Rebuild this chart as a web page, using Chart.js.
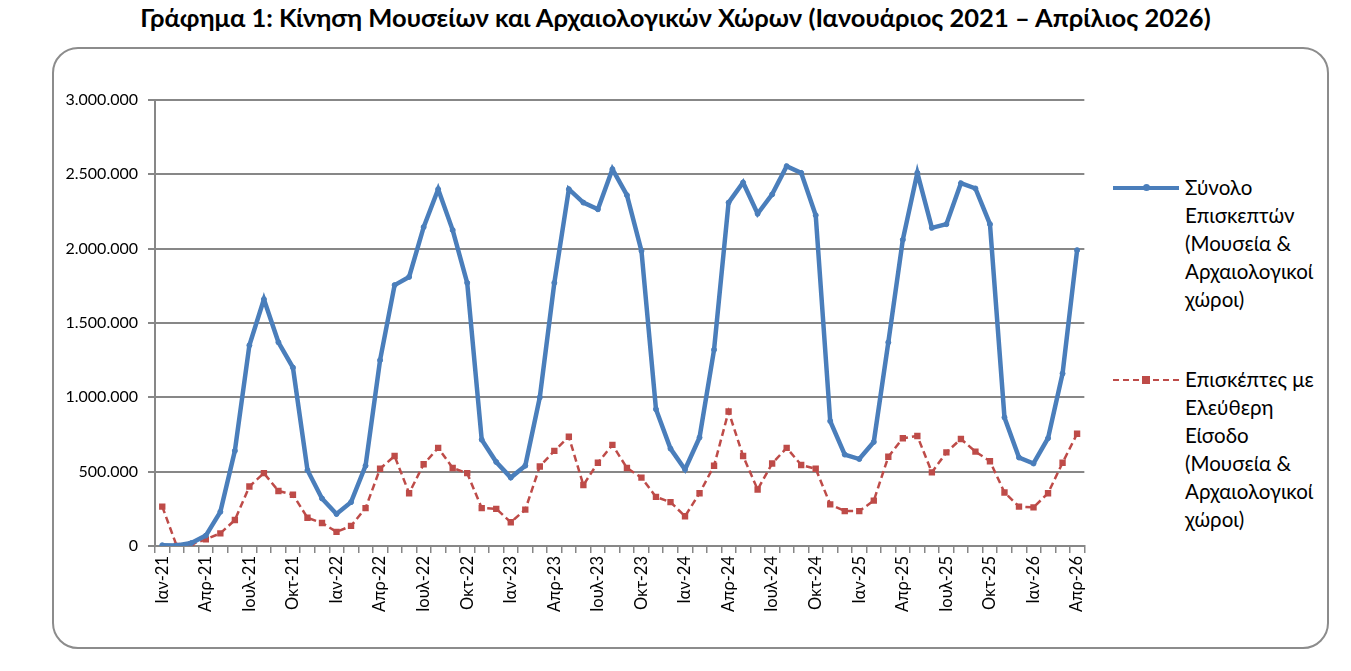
<!DOCTYPE html>
<html>
<head>
<meta charset="utf-8">
<script src="https://cdn.jsdelivr.net/npm/chart.js@4/dist/chart.umd.min.js"></script>
<style>
    body { margin: 0; background: #fff; font-family: Lato, "Open Sans", sans-serif; }
    #title {
        position: absolute; left: 0; top: 2px; width: 1351px;
        text-align: center; font-weight: bold; font-size: 25.5px; color: #000;
    }
    #frame {
        position: absolute; left: 52px; top: 47px; width: 1273px; height: 598px;
        border: 2px solid #8c8c8c; border-radius: 26px;
    }
    #wrap { position: absolute; left: 0; top: 0; width: 1100px; height: 671px; }
    .leg { position: absolute; left: 1113px; font-size: 20.5px; line-height: 28px; color: #000; }
    .leg .txt { position: absolute; left: 72px; top: 0; width: 160px; white-space: nowrap; }
    .leg .sample { position: absolute; left: 0; top: 13px; width: 66px; }
</style>
</head>
<body>
<div id="title">Γράφημα 1: Κίνηση Μουσείων και Αρχαιολογικών Χώρων (Ιανουάριος 2021 – Απρίλιος 2026)</div>
<div id="frame"></div>
<div id="wrap"><canvas id="chart" width="1100" height="671"></canvas></div>

<div class="leg" id="leg1" style="top:173px">
    <div class="sample" style="border-top:4px solid #4a7ebb"></div>
    <div style="position:absolute;left:30px;top:11px;width:7px;height:7px;border-radius:50%;background:#4a7ebb"></div>
    <div class="txt">Σύνολο<br>Επισκεπτών<br>(Μουσεία &amp;<br>Αρχαιολογικοί<br>χώροι)</div>
</div>
<div class="leg" id="leg2" style="top:365px">
    <div class="sample" style="border-top:2px dashed #be4b48; top:14px"></div>
    <div style="position:absolute;left:29px;top:11px;width:8px;height:8px;background:#be4b48"></div>
    <div class="txt">Επισκέπτες με<br>Ελεύθερη<br>Είσοδο<br>(Μουσεία &amp;<br>Αρχαιολογικοί<br>χώροι)</div>
</div>

<script>
// =============================================================
// DATA
// =============================================================
const monthNames = ["Ιαν", "Φεβ", "Μαρ", "Απρ", "Μαϊ", "Ιουν", "Ιουλ", "Αυγ", "Σεπ", "Οκτ", "Νοε", "Δεκ"];
const years      = ["21", "22", "23", "24", "25", "26"];

// Jan 2021 -> Apr 2026
const months = [];
years.forEach(y => monthNames.forEach(m => months.push(m + "-" + y)));
months.length = 64;

const totalVisitors = [
    5000, 3000, 20000, 70000, 230000, 640000, 1350000, 1660000, 1370000, 1200000, 510000, 320000,
    215000, 295000, 540000, 1250000, 1755000, 1810000, 2145000, 2400000, 2125000, 1770000, 715000, 565000,
    460000, 540000, 1000000, 1770000, 2400000, 2310000, 2265000, 2535000, 2360000, 1985000, 920000, 655000,
    515000, 730000, 1320000, 2310000, 2445000, 2235000, 2365000, 2555000, 2510000, 2225000, 840000, 615000,
    585000, 700000, 1370000, 2060000, 2510000, 2140000, 2165000, 2440000, 2405000, 2165000, 865000, 595000,
    555000, 725000, 1160000, 1990000
];

const freeVisitors = [
    265000, 0, 10000, 45000, 85000, 175000, 400000, 490000, 370000, 345000, 190000, 155000,
    95000, 135000, 255000, 520000, 605000, 355000, 550000, 660000, 525000, 490000, 255000, 250000,
    160000, 245000, 535000, 640000, 735000, 410000, 560000, 680000, 525000, 460000, 330000, 295000,
    200000, 355000, 540000, 905000, 605000, 380000, 555000, 660000, 545000, 520000, 280000, 235000,
    235000, 305000, 600000, 725000, 740000, 495000, 630000, 720000, 635000, 570000, 360000, 265000,
    260000, 355000, 560000, 755000
];

const yTicks = [0, 500000, 1000000, 1500000, 2000000, 2500000, 3000000];

// =============================================================
// CHART
// =============================================================
const gridColor = "#878787";

new Chart(document.getElementById("chart"), {
    type: "line",
    data: {
        labels: months,
        datasets: [
            {
                label: "Σύνολο Επισκεπτών (Μουσεία & Αρχαιολογικοί χώροι)",
                data: totalVisitors,
                borderColor: "#4a7ebb",
                backgroundColor: "#4a7ebb",
                borderWidth: 4.5,
                pointRadius: 2.5,
                pointBorderWidth: 1,
                pointStyle: "circle",
                tension: 0
            },
            {
                label: "Επισκέπτες με Ελεύθερη Είσοδο (Μουσεία & Αρχαιολογικοί χώροι)",
                data: freeVisitors,
                borderColor: "#be4b48",
                backgroundColor: "#be4b48",
                borderWidth: 2.5,
                borderDash: [7, 4],
                pointRadius: 4.5,
                pointBorderWidth: 0,
                pointStyle: "rect",
                tension: 0
            }
        ]
    },
    options: {
        responsive: false,
        animation: false,
        layout: { padding: { top: 100, right: 15, bottom: 25, left: 0 } },
        plugins: { legend: { display: false }, tooltip: { enabled: false } },
        scales: {
            x: {
                offset: true,
                grid: { display: true, drawOnChartArea: false, drawTicks: true, offset: true, tickLength: 7, color: gridColor, lineWidth: 1.5 },
                border: { display: true, color: gridColor, width: 2 },
                ticks: {
                    autoSkip: false, maxRotation: 90, minRotation: 90,
                    color: "#000", font: { family: "Lato", size: 16.5 },
                    callback: (v, i) => (i % 3 === 0 ? months[i] : "")
                },
                afterFit: s => { s.height = 100; }
            },
            y: {
                min: 0, max: 3000000,
                afterBuildTicks: s => { s.ticks = yTicks.map(v => ({ value: v })); },
                grid: { color: gridColor, lineWidth: 2, tickLength: 7 },
                border: { display: true, color: gridColor, width: 2 },
                ticks: {
                    color: "#000", padding: 10, font: { family: "Lato", size: 16 },
                    callback: v => v.toLocaleString("de-DE")
                },
                afterFit: s => { s.width = 155; }
            }
        }
    }
});
</script>
</body>
</html>
